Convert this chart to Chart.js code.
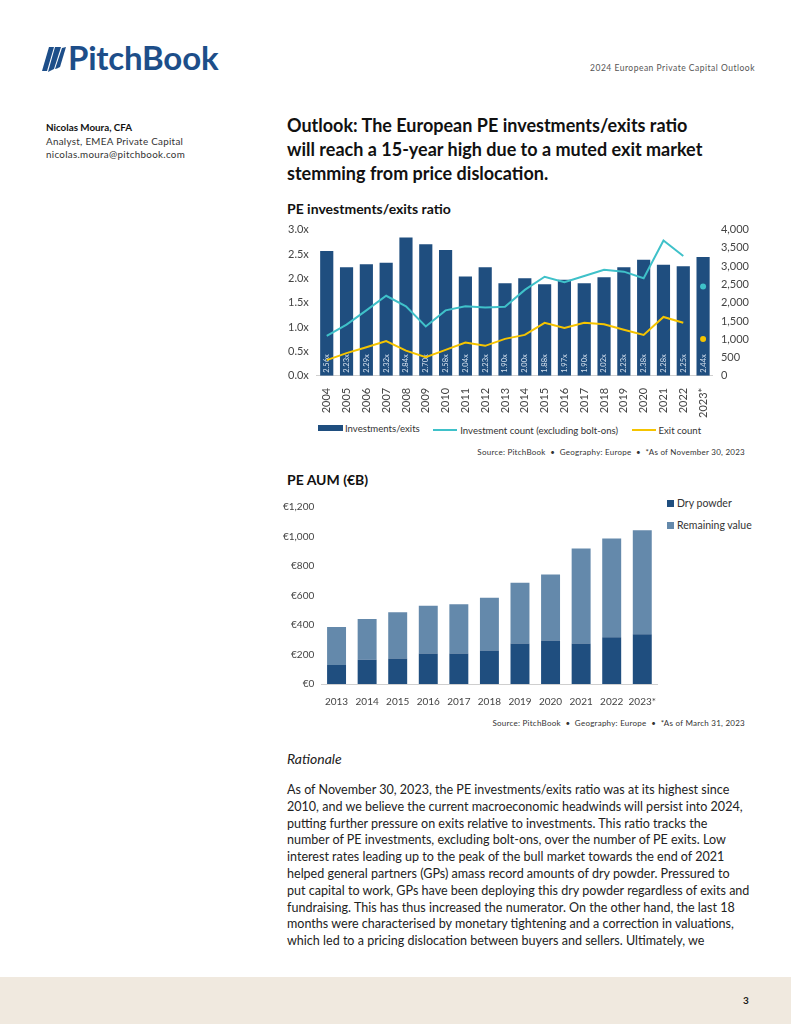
<!DOCTYPE html>
<html>
<head>
<meta charset="utf-8">
<script src="https://cdn.jsdelivr.net/npm/chart.js@4"></script>
<style>
  html, body { margin: 0; padding: 0; }
  body {
    width: 791px; height: 1024px; position: relative; overflow: hidden;
    background: #fff; font-family: Lato, "Open Sans", sans-serif; color: #1a1a1a;
  }
  .abs { position: absolute; white-space: nowrap; }
  .logo { left: 68px; top: 37px; font-size: 33px; font-weight: 700; color: #1d4e89; letter-spacing: -0.2px; }
  .doc-title { right: 36px; top: 63px; font-size: 8.5px; color: #555; letter-spacing: 0.5px; }
  .author { left: 46px; top: 121px; font-size: 9.8px; line-height: 13.5px; color: #333; letter-spacing: 0.3px; }
  .author b { color: #111; letter-spacing: 0; }
  .headline { left: 287px; top: 113px; font-size: 18px; font-weight: 700; line-height: 24px; color: #111; }
  .chart-title { left: 287px; font-size: 14px; font-weight: 700; color: #111; }
  .source { right: 46px; font-size: 8px; color: #333; letter-spacing: 0.25px; }
  .legend { font-size: 9.6px; color: #333; }
  .legend span.item { display: inline-flex; align-items: center; margin-right: 11px; }
  .swatch-bar { display: inline-block; width: 25px; height: 6px; background: #1f4e7f; margin-right: 2px; }
  .swatch-line { display: inline-block; width: 24px; height: 2px; margin-right: 3px; }
  .legend2 { left: 667px; top: 492px; font-size: 10.5px; line-height: 22px; }
  .sq { display: inline-block; width: 7px; height: 7px; margin-right: 3px; }
  .rationale { left: 287px; top: 750px; font-size: 14px; font-style: italic; color: #222; }
  .body-text { left: 287px; top: 782px; font-size: 12.55px; line-height: 16.8px; color: #222; }
  .footer { left: 0; top: 977px; width: 791px; height: 47px; background: #f0e9df; }
  .page-num { left: 743px; top: 994px; font-size: 10px; font-weight: 700; }
</style>
</head>
<body>

<!-- header -->
<svg class="abs" style="left:40px;top:45px" width="26" height="28" viewBox="0 0 26 28">
  <path d="M9 2 L14 2 L7 26 L2 26 Z" fill="#1d4e89"/>
  <path d="M15 2 L21 2 L14 24 C12 25 10 26 8 27 Z" fill="#1d4e89"/>
  <path d="M22 3 L26 2 L20 22 C18 23 16 24 15 24 Z" fill="#1d4e89"/>
</svg>
<div class="abs logo">PitchBook</div>
<div class="abs doc-title">2024 European Private Capital Outlook</div>

<div class="abs author"><b>Nicolas Moura, CFA</b><br>Analyst, EMEA Private Capital<br>nicolas.moura@pitchbook.com</div>

<div class="abs headline">Outlook: The European PE investments/exits ratio<br>will reach a 15-year high due to a muted exit market<br>stemming from price dislocation.</div>

<!-- chart 1 -->
<div class="abs chart-title" style="top:200px">PE investments/exits ratio</div>
<div class="abs" style="left:280px;top:215px;width:479px;height:207px">
  <canvas id="chartRatio"></canvas>
</div>
<div class="abs legend" style="left:318px;top:422px">
  <span class="item"><span class="swatch-bar"></span>Investments/exits</span>
  <span class="item"><span class="swatch-line" style="background:#3fc1c9"></span>Investment count (excluding bolt-ons)</span>
  <span class="item"><span class="swatch-line" style="background:#f5c400"></span>Exit count</span>
</div>
<div class="abs source" style="top:447px">Source: PitchBook&nbsp; •&nbsp; Geography: Europe&nbsp; •&nbsp; *As of November 30, 2023</div>

<!-- chart 2 -->
<div class="abs chart-title" style="top:471px">PE AUM (€B)</div>
<div class="abs" style="left:276px;top:494px;width:384px;height:218px">
  <canvas id="chartAum"></canvas>
</div>
<div class="abs legend legend2">
  <div><span class="sq" style="background:#1f4e7f"></span>Dry powder</div>
  <div><span class="sq" style="background:#6489ab"></span>Remaining value</div>
</div>
<div class="abs source" style="top:718px">Source: PitchBook&nbsp; •&nbsp; Geography: Europe&nbsp; •&nbsp; *As of March 31, 2023</div>

<!-- text -->
<div class="abs rationale">Rationale</div>
<div class="abs body-text">As of November 30, 2023, the PE investments/exits ratio was at its highest since<br>2010, and we believe the current macroeconomic headwinds will persist into 2024,<br>putting further pressure on exits relative to investments. This ratio tracks the<br>number of PE investments, excluding bolt-ons, over the number of PE exits. Low<br>interest rates leading up to the peak of the bull market towards the end of 2021<br>helped general partners (GPs) amass record amounts of dry powder. Pressured to<br>put capital to work, GPs have been deploying this dry powder regardless of exits and<br>fundraising. This has thus increased the numerator. On the other hand, the last 18<br>months were characterised by monetary tightening and a correction in valuations,<br>which led to a pricing dislocation between buyers and sellers. Ultimately, we</div>

<div class="abs footer"></div>
<div class="abs page-num">3</div>

<script>
// ---- data: PE investments/exits ratio ----
const ratioYears = ['2004', '2005', '2006', '2007', '2008', '2009', '2010', '2011', '2012', '2013',
  '2014', '2015', '2016', '2017', '2018', '2019', '2020', '2021', '2022', '2023*'];
const ratioValues = [2.56, 2.23, 2.29, 2.32, 2.84, 2.70, 2.58, 2.04, 2.23, 1.90,
  2.00, 1.88, 1.97, 1.90, 2.02, 2.23, 2.38, 2.28, 2.25, 2.44];
const investmentCounts = [1090, 1400, 1790, 2190, 1900, 1350, 1790, 1900, 1870, 1890,
  2350, 2710, 2560, 2730, 2900, 2850, 2670, 3700, 3280, 2440];
const exitCounts = [430, 620, 780, 950, 690, 510, 710, 910, 820, 1010,
  1120, 1450, 1310, 1450, 1410, 1260, 1120, 1610, 1450, 1010];
const ratioTicks = [0, 0.5, 1, 1.5, 2, 2.5, 3];
const countTicks = [0, 500, 1000, 1500, 2000, 2500, 3000, 3500, 4000];

// ---- data: PE AUM (€B) ----
const aumYears = ['2013', '2014', '2015', '2016', '2017', '2018', '2019', '2020', '2021', '2022', '2023*'];
const dryPowder = [128, 164, 173, 207, 207, 227, 275, 295, 275, 317, 338];
const remainingValue = [259, 277, 313, 324, 334, 358, 412, 448, 644, 669, 705];
const aumTicks = [0, 200, 400, 600, 800, 1000, 1200];

const NAVY = '#1f4e7f';
const STEEL = '#6489ab';
const TEAL = '#3fc1c9';
const GOLD = '#f5c400';
const TICK_FONT = { family: 'Lato, sans-serif', size: 11 };
const SMALL_TICK_FONT = { family: 'Lato, sans-serif', size: 10 };
const NO_GRID = { display: false, drawTicks: false };

Chart.defaults.animation = false;
Chart.defaults.color = '#444';

// white ratio labels written inside the bars
const barLabels = {
  id: 'barLabels',
  afterDatasetDraw(chart, args) {
    if (args.index !== 0) return;
    const ctx = chart.ctx;
    ctx.save();
    ctx.fillStyle = '#d6e1ee';
    ctx.font = '7.5px Lato, sans-serif';
    ctx.textAlign = 'left';
    ctx.textBaseline = 'middle';
    args.meta.data.forEach(function (bar, i) {
      ctx.save();
      ctx.translate(bar.x, bar.base - 3);
      ctx.rotate(-Math.PI / 2);
      ctx.fillText(ratioValues[i].toFixed(2) + 'x', 0, 0);
      ctx.restore();
    });
    ctx.restore();
  }
};

// last year (2023*) is shown as a lone dot, not joined to the line
const lastIdx = ratioYears.length - 1;
function countLine(label, data, color) {
  return {
    type: 'line',
    label: label,
    data: data,
    yAxisID: 'y1',
    borderColor: color,
    backgroundColor: color,
    borderWidth: 2,
    pointRadius: function (c) { return c.dataIndex === lastIdx ? 3 : 0; },
    pointBorderWidth: 0,
    segment: {
      borderColor: function (c) { return c.p1DataIndex === lastIdx ? 'transparent' : color; }
    },
    tension: 0,
    order: 1
  };
}

new Chart(document.getElementById('chartRatio'), {
  type: 'bar',
  data: {
    labels: ratioYears,
    datasets: [
      {
        label: 'Investments/exits',
        data: ratioValues,
        yAxisID: 'y',
        backgroundColor: NAVY,
        barPercentage: 0.7,
        categoryPercentage: 0.95,
        order: 3
      },
      countLine('Investment count (excluding bolt-ons)', investmentCounts, TEAL),
      countLine('Exit count', exitCounts, GOLD)
    ]
  },
  options: {
    responsive: true,
    maintainAspectRatio: false,
    layout: { padding: { top: 0, right: 2, left: 0 } },
    plugins: { legend: { display: false }, tooltip: { enabled: false } },
    scales: {
      x: {
        grid: { display: false },
        border: { color: '#cfcfcf' },
        ticks: { font: TICK_FONT, maxRotation: 90, minRotation: 90, autoSkip: false, padding: 4 }
      },
      y: {
        position: 'left',
        min: 0, max: 3,
        grid: NO_GRID,
        border: { display: false },
        afterBuildTicks: function (axis) { axis.ticks = ratioTicks.map(function (v) { return { value: v }; }); },
        ticks: { font: TICK_FONT, padding: 8, autoSkip: false, callback: function (v) { return v.toFixed(1) + 'x'; } }
      },
      y1: {
        position: 'right',
        min: 0, max: 4000,
        grid: NO_GRID,
        border: { display: false },
        afterBuildTicks: function (axis) { axis.ticks = countTicks.map(function (v) { return { value: v }; }); },
        ticks: { font: TICK_FONT, padding: 8, autoSkip: false, callback: function (v) { return v.toLocaleString('en-US'); } }
      }
    }
  },
  plugins: [barLabels]
});

new Chart(document.getElementById('chartAum'), {
  type: 'bar',
  data: {
    labels: aumYears,
    datasets: [
      { label: 'Dry powder', data: dryPowder, backgroundColor: NAVY, barPercentage: 0.62, categoryPercentage: 1 },
      { label: 'Remaining value', data: remainingValue, backgroundColor: STEEL, barPercentage: 0.62, categoryPercentage: 1 }
    ]
  },
  options: {
    responsive: true,
    maintainAspectRatio: false,
    layout: { padding: { top: 4, right: 0 } },
    plugins: { legend: { display: false }, tooltip: { enabled: false } },
    scales: {
      x: {
        stacked: true,
        grid: { display: false },
        border: { color: '#cfcfcf' },
        ticks: { font: SMALL_TICK_FONT, maxRotation: 0, minRotation: 0, autoSkip: false, padding: 4 }
      },
      y: {
        stacked: true,
        min: 0, max: 1200,
        grid: NO_GRID,
        border: { display: false },
        afterBuildTicks: function (axis) { axis.ticks = aumTicks.map(function (v) { return { value: v }; }); },
        ticks: { font: SMALL_TICK_FONT, padding: 7, autoSkip: false, callback: function (v) { return '€' + v.toLocaleString('en-US'); } }
      }
    }
  }
});
</script>
</body>
</html>
